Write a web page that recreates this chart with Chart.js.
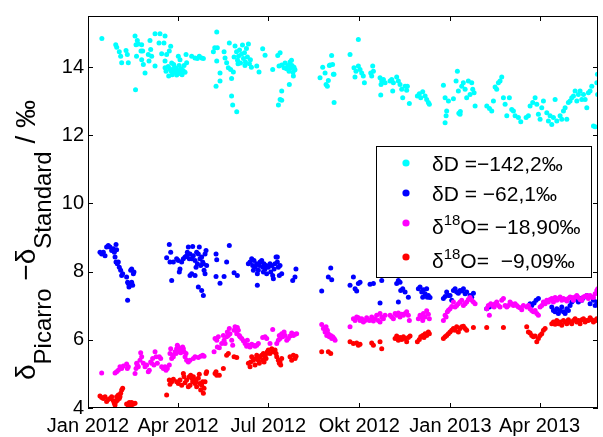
<!DOCTYPE html>
<html><head><meta charset="utf-8">
<script src="https://cdn.jsdelivr.net/npm/chart.js@4/dist/chart.umd.min.js"></script>
<style>html,body{margin:0;padding:0;background:#fff;}canvas{display:block;}</style>
</head><body>
<canvas id="c" width="603" height="437"></canvas>
<script>
// x = days since 1 Jan 2012
const xTickDays = [0, 91, 182, 274, 366, 456];
const xTickLabels = ['Jan 2012', 'Apr 2012', 'Jul 2012', 'Okt 2012', 'Jan 2013', 'Apr 2013'];
const yTickValues = [4, 6, 8, 10, 12, 14];
const seriesLabels = ['δD =−142,2‰', 'δD = −62,1‰', 'δ^18O= −18,90‰', 'δ^18O=  −9,09‰'];
const seriesColors = ['#00FFFF', '#0000FF', '#FF00FF', '#FF0000'];
const yLabelParts = [['δ', 'M'], ['Picarro', 'S'], [' −δ', 'M'], ['Standard', 'S'], [' / ‰', 'M']];

const cyanPts = [[14,14.84],[28,14.66],[29,14.58],[31.6,14.45],[33,14.32],[34,14.13],[38.4,14.49],[39.7,14.37],[40.7,14.13],[48,13.34],[47.5,14.91],[48.5,14.66],[49,14.32],[49.8,14.78],[50.8,14.68],[53.5,14.47],[54.2,14.22],[55.2,14.47],[55.9,14.08],[57.6,13.83],[54.2,14.66],[60.9,14.37],[62.6,14.78],[63.3,14.52],[64.3,14.32],[61.6,14.18],[67.7,14.03],[67.7,14.98],[72.7,14.98],[71.7,14.71],[76.7,14.71],[77.8,14.91],[74.4,14.39],[77.8,14.18],[79.4,14.37],[82.1,14.47],[83.5,14.61],[77.8,13.98],[78.8,13.88],
[81,14.02],[82.5,13.95],[84,13.88],[85,13.78],[86,13.93],[87.5,14.0],[88,13.85],[89,13.95],[90,13.8],[91,13.9],[92,14.05],[93,13.85],[94,13.95],[95,13.78],[96,13.9],[97,14.05],[98,13.85],[86.5,14.08],[84.5,14.12],[89.5,13.77],[92.9,13.81],[81.5,13.74],
[91.2,14.32],[92.9,14.22],[99,14.37],[99.6,14.13],[104.7,14.32],[108,14.27],[110.4,14.25],[112.4,14.32],[114.8,14.27],[116.5,14.25],
[126.6,14.45],[130,15.03],[128,14.57],[130.6,14.57],[130,14.18],[133.3,13.83],[129.3,13.44],[133.3,13.59],[137.4,14.45],[138.4,14.27],[140,14.13],[142.7,14.71],[141.7,13.98],[144,13.93],[145,13.67],[146.8,13.86],[145,13.15],[146.1,12.89],[150.2,12.69],
[147.5,14.3],[148.5,14.62],[150,14.45],[151,14.2],[152,14.32],[153,14.5],[154,14.12],[155,14.38],[156,14.65],[157,14.25],[158,14.42],[159,14.15],[160,14.55],[161,14.3],[162,14.68],[163,14.1],[164,14.22],[165,14.0],[158.5,14.05],[151.5,14.1],
[170.4,14.03],[172.7,13.86],[176.4,14.54],[178.8,14.35],[186.5,13.93],[191.6,14.34],[194,14.42],[192.9,14.03],[195.6,14.06],[198,13.98],[195.6,13.3],[194,13.05],[195.6,13.03],[192.3,12.89],
[199,14.12],[200.5,13.95],[202,14.05],[203,13.88],[204,14.15],[205,13.98],[206,14.05],[207,13.85],[208,14.0],[209,13.92],[205.5,14.2],[203.3,13.49],[207.4,13.74],
[234.3,13.69],[237,14.0],[239.4,13.83],[240.4,13.49],[241.7,13.44],[242.7,13.61],[243.7,14.05],[246,14.34],[247.8,13.79],[248.5,12.96],[244.4,14.06],[247,14.08],[248.4,13.79],
[264.6,14.37],[273,14.81],[268.6,13.98],[270.6,13.88],[273,14.03],[274.7,13.93],[276.4,13.83],[278,13.74],[279.1,13.54],[269.6,13.71],
[287.5,14.03],[286.5,13.74],[288.2,13.88],[285.5,13.83],[294.9,13.69],[296.6,13.59],[298.3,13.64],[295.9,13.49],[300,13.54],[295.6,13.18],
[305,13.59],[306.7,13.64],[308.4,13.54],[307.7,13.30],[311.7,13.71],[313.4,13.59],[315.1,13.49],[316.8,13.35],[317.8,13.10],[320.2,13.44],[321.8,13.32],[322.5,13.44],[324.5,12.93],
[332.6,13.15],[334.6,13.22],[336,13.10],[338,13.28],[340.4,13.15],[342,13.05],[343.7,12.96],[344.7,12.91],
[358.9,13.47],[360.6,13.10],[361.6,12.57],[362.2,12.71],[360.6,12.37],[364,13.01],[369,13.07],[371.7,13.59],[373,13.88],[374,13.30],[375.7,12.62],[377.4,13.44],[379,13.54],[380.8,13.35],[382.4,13.10],[384.1,13.59],[385.8,13.20],[387.5,13.54],[388.5,13.35],[389.9,13.25],[390.9,12.86],[374.5,12.65],[376,12.7],
[402.7,12.86],[405.4,12.79],[407.7,12.71],[409.4,13.01],[411.1,13.42],[412.7,13.35],[414.4,13.54],[416.1,13.59],[417.8,13.71],[419.5,13.10],[421.2,12.91],[422.9,12.57],[425.5,13.10],[427.9,12.76],[429.6,12.71],[431.3,12.57],[434.6,12.52],[437,12.40],[442.4,12.52],[444.7,12.57],[446.4,12.86],[449.1,12.96],[451.5,13.10],[453.2,12.91],[454.8,12.62],[456.5,12.47],[458.2,12.81],[459.9,13.01],[463.3,12.66],[464.9,12.42],[466.6,12.57],[468.3,12.32],[470,12.52],[471.7,13.05],[473.4,12.42],[476.7,12.57],[478.4,12.47],[480.1,12.71],[481.8,12.81],[483.5,12.47],[485.1,12.96],[486.8,13.01],[488.5,13.10],[490.2,13.15],[491.9,13.30],[493.6,13.01],[495.2,13.20],[496.9,13.30],[498.6,13.05],[500.3,13.20],[502,13.05],[503.7,12.81],[505.3,13.25],[507,13.30],[508.7,13.44],[510.4,12.27],[512.1,12.25],[513.8,13.54],[514.4,13.79],[514.6,13.2]];

const bluePts = [[12.1,8.57],[13.8,8.52],[15.5,8.57],[17.2,8.47],[18.8,8.72],[20.5,8.77],[22.2,8.72],[23.9,8.62],[25.6,8.67],[26.6,8.57],[28.3,8.80],[28.9,8.64],[27.3,8.43],[28.3,8.28],[29.6,8.23],[30.6,8.28],[31.6,8.13],[33,8.04],[34,7.89],[35,7.94],[39,7.84],[40,7.69],[40.7,7.65],[41.4,7.55],[40,7.16],[42.4,7.6],[44.1,7.69],[43.1,8.04],[44.1,8.08],[45.8,7.94],[46.4,7.99],[45.1,7.6],
[79.4,8.41],[82.1,8.80],[83.5,8.57],[82.8,8.28],[84.5,7.74],[86.2,8.28],[89.5,8.38],[91.2,8.33],[92.9,8.08],[92.2,7.99],[94.6,8.28],[96.3,8.38],[98,8.43],[99.6,8.47],[100.3,8.57],[101.3,8.72],[102.3,8.38],[103,8.52],[104.7,8.38],[105.7,8.74],[106.4,8.47],[108.1,8.33],[109.1,8.13],[109.7,8.57],[110.4,8.23],[111.4,8.52],[112.4,8.72],[113.1,8.38],[113.8,8.18],[114.8,8.43],[115.8,8.28],[116.5,8.23],[117.2,8.04],[118.2,8.52],[119.2,8.62],[118.2,7.94],[119.8,8.18],[111.4,7.55],[114.8,7.45],[116.5,7.30],[103,7.89],[104.7,7.94],[108.1,7.89],
[129.3,8.52],[130,8.35],[129.3,7.86],[133.3,7.66],[137.4,7.86],[140,8.28],[142.7,8.77],[147.5,7.97],[150.8,7.89],
[161.9,8.23],[163.6,8.28],[165.3,8.38],[166.3,8.18],[167,8.04],[167.6,8.33],[168.7,8.13],[170.3,8.23],[171,7.94],[172,8.04],[173,8.18],[173.7,8.28],[175.4,8.33],[176.4,8.13],[177.1,7.99],[177.7,8.23],[178.8,8.08],[179.8,8.18],[180.4,7.94],[182.1,8.13],[183.8,8.23],[184.5,7.99],[185.5,8.18],[186.5,7.89],[187.2,7.79],[187.9,8.08],[188.9,8.23],[189.9,8.43],[191.2,8.28],[192.2,8.13],[193.2,7.89],[193.9,8.18],[195.6,7.94],[171,7.60],[191.2,8.43],
[206.7,7.74],[209,7.84],[210,8.08],[236,7.43],[242.7,7.84],[245.1,8.11],[246.1,7.76],
[264.6,7.6],[268,7.84],[269.7,7.50],[271.3,7.43],[273,7.65],[274.7,7.69],[284.8,7.63],[288.2,7.65],[294.9,7.08],[296.6,7.74],
[311.7,7.65],[313.4,7.74],[315.1,7.69],[315.8,7.45],[313.4,7.11],[317.8,7.50],[320.2,7.40],[323.5,7.25],
[333.6,7.50],[335.3,7.55],[337,7.40],[338.7,7.47],[340.4,7.35],[342,7.50],[342.7,7.25],[343.7,7.30],[345.4,7.24],[338,7.25],
[358.9,7.21],[360.6,7.27],[362.2,7.40],[363.9,7.30],[365.6,7.30],[367.3,7.16],[369,7.45],[370.7,7.50],[372.3,7.40],[374,7.37],[375.7,7.45],[377.4,7.43],[379.1,7.50],[380.8,7.35],[382.4,7.40],[385.8,7.30],[389.2,7.37],[387.5,7.25],
[402.6,6.91],[405.3,6.96],[446.4,7.06],[448.1,7.01],[450.5,7.08],[452.5,7.16],[454.8,7.21],
[468.3,6.96],[470,6.86],[471.7,6.82],[473.4,6.91],[475,6.77],[476.7,6.86],[478.4,6.96],[480.1,6.82],[481.8,6.77],[483.5,6.91],[485.1,6.86],[486.8,7.01],[488.5,7.11],[490.2,7.16],[493.6,7.21],[495.2,7.11],[496.9,7.21],[498.6,7.16],[500.3,7.24],[503.7,7.30],[507,7.06],[510.4,7.16],[512.1,7.01],[513.8,7.11],[514.8,7.06]];

const magentaPts = [[13.8,5.03],[27.3,5.03],[28.9,5.06],[30.6,5.11],[32.3,5.21],[34,5.16],[35.7,5.23],[39,5.29],[39.7,5.16],[40.7,5.21],[47.5,5.01],[48.5,5.16],[49.1,5.31],[49.8,5.26],[50.8,5.21],[52.5,5.40],[53.2,5.62],[54.2,5.50],[55.9,5.31],[57.6,5.21],[59.2,5.26],[60.9,5.06],[61.9,5.11],[63.3,5.35],[64.3,5.31],[65.3,5.45],[66.6,5.26],[67.7,5.65],[68.7,5.50],[70,5.31],[72,5.50],[73.4,5.45],[74.4,5.21],[76.1,5.16],[77.8,5.21],[78.8,5.11],[80.1,5.16],[82.1,5.26],[82.8,5.60],[83.5,5.74],[84.5,5.45],[85.5,5.55],[86.2,5.50],[87.9,5.65],[88.9,5.60],[89.5,5.74],[90.2,5.84],[91.2,5.79],[92.2,5.65],[92.9,5.74],[93.6,5.62],[94.6,5.70],[95.6,5.79],[96.3,5.74],[97,5.65],[98,5.50],[99,5.60],[99.6,5.40],[101.3,5.35],[103,5.40],[106.4,5.45],[108.1,5.50],[111.4,5.48],[113.8,5.52],[115.8,5.55],[117.2,5.52],
[127.3,5.65],[128.3,6.04],[130,5.99],[131.6,6.09],[130.6,5.79],[132.6,5.77],[135,5.89],[136.7,6.13],[137.4,5.99],[138.4,5.89],[140,6.09],[140.7,6.23],[141.7,6.13],[142.7,6.33],[143.4,6.18],[145.1,5.99],[146.1,5.84],[147.5,6.28],[148.5,6.38],[149.5,6.28],[150.2,6.18],[150.8,6.36],[151.8,6.28],[152.8,6.13],[153.5,6.09],[155.2,6.04],[156.9,5.97],[158.6,5.89],[160.2,5.81],[160.9,5.99],[162,5.84],[163.6,5.79],[165.3,5.87],[167,5.84],[168.7,5.81],[170.4,5.84],[172,5.89],[176.4,6.07],[178.8,6.09],[180.5,6.04],[183.8,5.89],[186.5,6.30],[190.6,5.89],[192.2,5.99],[193.2,6.13],[193.9,6.04],[195.6,6.18],[196.6,6.09],[198,6.23],[199,6.13],[200.7,5.99],[202.3,6.04],[204,6.11],[205.7,6.20],[207.4,6.13],[209.1,6.16],[210.7,6.18],
[236,6.45],[237.7,6.33],[239.4,6.23],[240.4,6.38],[241.1,6.13],[241.7,6.28],[242.7,6.18],[243.7,6.09],[245.1,6.13],[246.1,6.04],[247.1,6.09],[248.5,6.04],[249.5,5.99],
[264.6,6.38],[268,6.62],[269.7,6.57],[271.3,6.67],[273,6.65],[274.7,6.57],[276.4,6.62],[278.1,6.52],[279.8,6.57],[281.4,6.65],[284.1,6.57],[285.5,6.59],[286.5,6.67],[288.2,6.55],[289.9,6.62],[291.5,6.72],[293.2,6.57],[294.9,6.77],[296.6,6.67],[298.3,6.62],[300,6.72],[294.9,6.52],
[305,6.72],[306.7,6.67],[308.4,6.62],[310.1,6.77],[311.7,6.72],[313.4,6.79],[315.1,6.67],[316.8,6.75],[318.5,6.72],[320.2,6.77],[321.8,6.82],[323.5,6.72],[324.5,6.57],
[333.6,6.62],[335.3,6.72],[337,6.67],[338,6.57],[338.7,6.77],[340.4,6.67],[342,6.85],[343.7,6.75],[344.7,6.62],
[358.9,6.57],[360.6,6.72],[361.6,6.67],[362.9,6.82],[364,6.87],[365.6,6.91],[367.3,6.98],[369,7.11],[370.7,6.96],[372.3,7.01],[374,7.06],[375.7,7.11],[377.4,7.16],[379.1,7.01],[380.8,7.06],[382.4,7.11],[384.1,7.18],[385.8,7.24],[387.5,7.16],[389.2,7.11],[390.9,7.06],
[402.6,6.91],[404.3,7.01],[405.3,6.72],[406.7,7.06],[408.7,7.01],[410.1,6.96],[411.1,7.06],[412.7,7.11],[414.4,7.01],[416.1,6.96],[417.8,7.16],[419.5,7.21],[421.2,7.01],[422.9,6.96],[424.5,7.01],[426.2,7.11],[427.9,7.06],[429.6,7.01],[431.3,7.06],[433,7.01],[434.6,6.96],[436.3,6.94],[438,6.88],[439.7,7.01],[443,6.96],[444.7,7.01],[446.4,6.91],[448.1,6.86],[449.8,6.82],[451.5,6.86],[453.2,6.77],[454.8,6.72],[456.5,6.96],[458.2,7.01],[459.9,7.11],[461.6,7.06],[463.3,7.16],[464.9,7.11],[466.6,7.18],[468.3,7.21],[470,7.11],[471.7,7.24],[473.4,7.16],[475,7.21],[476.7,7.26],[478.4,7.16],[480.1,7.21],[481.8,7.18],[483.5,7.14],[485.1,7.21],[486.8,7.26],[488.5,7.24],[490.2,7.16],[491.9,7.26],[493.6,7.30],[495.2,7.24],[496.9,7.18],[498.6,7.16],[500.3,7.26],[502,7.28],[503.7,7.30],[505.3,7.21],[507,7.30],[508.7,7.26],[510.4,7.24],[512.1,7.35],[513.8,7.45],[514.8,7.5]];

const redPts = [[12.1,4.35],[13.8,4.31],[15.5,4.28],[17.2,4.33],[18.8,4.19],[20.5,4.25],[22.2,4.28],[23.9,4.33],[25.6,4.21],[26.6,4.14],[28.3,4.19],[28.9,4.33],[29.6,4.23],[30.6,4.38],[31.6,4.28],[32.3,4.33],[33,4.43],[34,4.53],[35,4.58],[27.3,4.09],
[39,4.12],[40.7,4.04],[41.7,4.16],[42.4,4.09],[44.1,4.16],[45.8,4.12],[47.5,4.14],[40.7,4.0],[44.1,4.0],
[79.4,4.38],[82.1,4.82],[82.8,4.70],[84.5,4.77],[86.2,4.84],[89.5,4.77],[91.2,4.72],[92.9,4.82],[94.6,4.67],[96.3,5.01],[97,4.92],[98,4.74],[99.6,4.82],[101.3,4.62],[102.3,4.92],[103,4.67],[103.7,4.96],[104.7,4.87],[105.7,4.77],[106.4,4.92],[107.1,4.84],[108.1,4.72],[109.1,4.77],[109.7,4.62],[111.4,4.87],[112.4,4.99],[113.1,4.72],[113.8,4.53],[114.8,4.67],[115.8,4.77],[116.5,4.43],[117.2,4.58],[118.2,4.77],[119.2,5.01],[119.8,5.06],
[128.3,5.01],[129.3,5.06],[130,4.96],[132.6,4.96],[136.7,5.16],[140,5.55],[141.7,5.60],[147.5,5.50],[150.2,5.48],
[162,5.31],[163.6,5.21],[164.3,5.35],[165.3,5.50],[167,5.40],[168.7,5.26],[169.7,5.45],[170.4,5.55],[172,5.40],[173,5.31],[173.7,5.50],[175.4,5.55],[176.4,5.40],[177.1,5.60],[177.8,5.35],[178.8,5.50],[179.8,5.45],[180.5,5.60],[181.1,5.65],[182.1,5.70],[183.8,5.60],[185.5,5.74],[186.5,5.70],[187.2,5.65],[188.9,5.70],[189.9,5.60],[190.6,5.50],[192.2,5.40],[193.2,5.31],[193.9,5.35],[194.6,5.26],[195.6,5.45],
[204,5.50],[205.7,5.40],[207.4,5.55],[209.1,5.45],[210.1,5.52],[236,5.65],[242.7,5.65],[245.1,5.60],
[264.6,5.94],[268,5.89],[271.3,5.91],[273,5.84],[274.7,5.87],[286.5,5.91],[288.2,5.84],[294.9,5.94],[296.6,5.74],
[310.1,6.04],[311.7,6.11],[313.4,5.99],[315.1,6.07],[316.8,6.01],[318.5,6.09],[320.2,6.04],[321.8,5.94],[323.5,6.07],[325.2,6.11],
[332.6,5.94],[334.6,6.01],[336,6.09],[338,6.13],[339.3,6.07],[340.4,6.18],[342,6.13],[343.7,6.23],[344.7,6.18],
[358.9,6.04],[360.6,6.09],[362.2,6.13],[363.9,6.18],[365.6,6.23],[367.3,6.28],[369,6.33],[370.7,6.28],[372.3,6.38],[374,6.23],[375.7,6.33],[377.4,6.38],[379.1,6.40],[380.8,6.33],[382.4,6.28],[389.2,6.36],
[402.6,6.36],[419.5,6.36],
[443,6.38],[444.7,6.23],[446.4,6.20],[448.1,6.13],[449.8,6.09],[451.5,6.11],[453.2,5.94],[454.8,6.04],[456.5,6.13],[458.2,6.18],[459.9,6.28],[461.6,6.33],
[468.3,6.47],[470,6.52],[471.7,6.46],[473.4,6.57],[475,6.47],[476.7,6.52],[478.4,6.43],[480.1,6.57],[481.8,6.52],[483.5,6.47],[485.1,6.59],[486.8,6.52],[488.5,6.47],[490.2,6.57],[491.9,6.62],[493.6,6.52],[495.2,6.57],[496.9,6.47],[498.6,6.59],[500.3,6.62],[502,6.52],[503.7,6.57],[505.3,6.57],[507,6.65],[508.7,6.59],[510.4,6.52],[512.1,6.57],[513.8,6.62],[514.8,6.57]];

const allSeries = [cyanPts, bluePts, magentaPts, redPts];

const FONT = "'Liberation Sans', Arial, Helvetica, sans-serif";

function drawRich(ctx, text, x, y, size, supSize, supRise) {
  // '^18' marks a superscript
  const parts = text.split(/\^(\d+)/);
  let cx = x;
  parts.forEach((p, i) => {
    if (!p) return;
    const sup = i % 2 === 1;
    ctx.font = (sup ? supSize : size) + 'px ' + FONT;
    ctx.fillText(p, cx, sup ? y - supRise : y);
    cx += ctx.measureText(p).width;
  });
}

const decor = {
  id: 'decor',
  afterDraw(chart) {
    const {ctx, chartArea: a, scales: {x, y}} = chart;
    ctx.save();
    // axes box
    ctx.strokeStyle = '#000';
    ctx.lineWidth = 1;
    ctx.strokeRect(a.left + 0.5, a.top + 0.5, a.right - a.left - 1, a.bottom - a.top - 1);
    const L = 5;
    ctx.beginPath();
    xTickDays.forEach(d => {
      const px = Math.round(x.getPixelForValue(d)) + 0.5;
      ctx.moveTo(px, a.bottom); ctx.lineTo(px, a.bottom - L);
      ctx.moveTo(px, a.top); ctx.lineTo(px, a.top + L);
    });
    yTickValues.forEach(v => {
      const py = Math.round(y.getPixelForValue(v)) + 0.5;
      ctx.moveTo(a.left, py); ctx.lineTo(a.left + L, py);
      ctx.moveTo(a.right, py); ctx.lineTo(a.right - L, py);
    });
    ctx.stroke();

    // legend
    const bx = 376, by = 146, bw = 215, bh = 131;
    ctx.fillStyle = '#fff';
    ctx.fillRect(bx, by, bw, bh);
    ctx.strokeRect(bx + 0.5, by + 0.5, bw, bh);
    const rows = [163, 193, 223, 257];
    seriesLabels.forEach((lab, i) => {
      ctx.fillStyle = seriesColors[i];
      ctx.beginPath();
      ctx.arc(406, rows[i], 3.6, 0, Math.PI * 2);
      ctx.fill();
      ctx.fillStyle = '#000';
      ctx.textBaseline = 'alphabetic';
      ctx.textAlign = 'left';
      const hasSup = lab.indexOf('^') >= 0;
      drawRich(ctx, lab, 432, rows[i] + 7.5 + (hasSup ? 3.5 : 0), 21, 15, 9);
    });

    // y axis label (rotated, with subscripts)
    const M = 28, S = 24, X0 = 35, SUB = 16, CY = 240;
    ctx.translate(X0, CY);
    ctx.rotate(-Math.PI / 2);
    ctx.fillStyle = '#000';
    let total = 0;
    yLabelParts.forEach(([t, k]) => { ctx.font = (k === 'M' ? M : S) + 'px ' + FONT; total += ctx.measureText(t).width; });
    let u = -total / 2;
    yLabelParts.forEach(([t, k]) => {
      ctx.font = (k === 'M' ? M : S) + 'px ' + FONT;
      ctx.fillText(t, u, k === 'M' ? 0 : SUB);
      u += ctx.measureText(t).width;
    });
    ctx.restore();
  }
};

new Chart(document.getElementById('c'), {
  type: 'scatter',
  data: {
    datasets: allSeries.map((pts, i) => ({
      label: seriesLabels[i],
      data: pts.map(p => ({x: p[0], y: p[1]})),
      backgroundColor: seriesColors[i],
      borderColor: seriesColors[i],
      pointRadius: 2.5,
      pointBorderWidth: 0,
      order: 4 - i
    }))
  },
  options: {
    responsive: false,
    animation: false,
    devicePixelRatio: 1,
    layout: {padding: {left: 0, right: 5, top: 15, bottom: 0}},
    plugins: {legend: {display: false}, tooltip: {enabled: false}},
    scales: {
      x: {
        type: 'linear', min: 0, max: 515,
        grid: {display: false, drawTicks: false},
        border: {display: false},
        afterBuildTicks: s => { s.ticks = xTickDays.map(v => ({value: v})); },
        afterFit: s => { s.height = 29; },
        ticks: {
          autoSkip: false, maxRotation: 0, minRotation: 0, padding: 6,
          color: '#000', font: {family: FONT, size: 20},
          callback: v => { const i = xTickDays.indexOf(v); return i >= 0 ? xTickLabels[i] : ''; }
        }
      },
      y: {
        type: 'linear', min: 4, max: 15.5,
        grid: {display: false, drawTicks: false},
        border: {display: false},
        afterBuildTicks: s => { s.ticks = yTickValues.map(v => ({value: v})); },
        afterFit: s => { s.width = 88; },
        ticks: {padding: 4, color: '#000', font: {family: FONT, size: 20}}
      }
    }
  },
  plugins: [decor]
});
</script>
</body></html>
